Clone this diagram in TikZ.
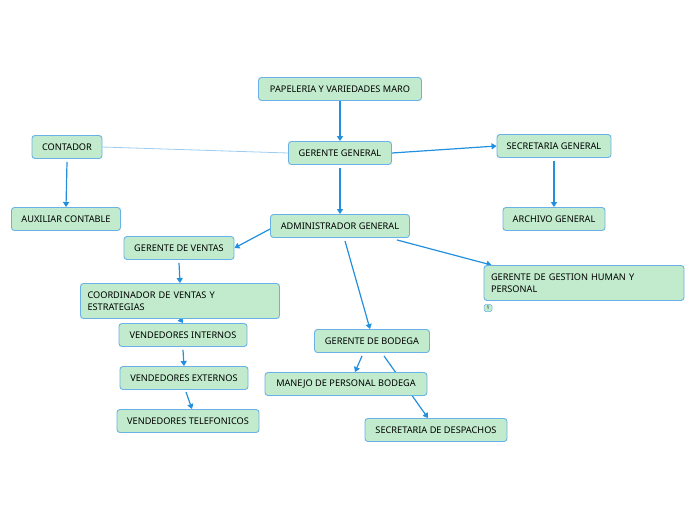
\documentclass[tikz,border=0pt]{standalone}
\usepackage{fontspec}
\setmainfont{Noto Sans}
\usetikzlibrary{arrows.meta,backgrounds}

\definecolor{cajaverde}{HTML}{C1EBCC}
\definecolor{bordeazul}{HTML}{6AB2E6}
\definecolor{flechaazul}{HTML}{2290DE}

\tikzset{
  caja/.style={draw=bordeazul, fill=cajaverde, rounded corners=3pt, line width=0.9pt,
    minimum height=23pt, inner xsep=7pt, font=\fontsize{9.2}{12}\selectfont},
  cajados/.style={caja, align=left, minimum height=35pt, text width=#1},
  flecha/.style={-{Triangle[length=5pt,width=6pt]}, flechaazul, line width=1.2pt},
}

\begin{document}
\begin{tikzpicture}[x=1pt, y=-1pt]
  \useasboundingbox (0,0) rectangle (696,520);

  % nivel superior
  \node[caja, minimum width=163pt] (pap) at (340,89) {PAPELERIA Y VARIEDADES MARO};
  \node[caja, minimum width=103pt] (gg) at (340,153) {GERENTE GENERAL};
  \node[caja, minimum width=70pt] (cont) at (67,147) {CONTADOR};
  \node[caja, minimum width=114pt] (secg) at (554,146) {SECRETARIA GENERAL};
  \node[caja, minimum width=109pt] (aux) at (66,219) {AUXILIAR CONTABLE};
  \node[caja, minimum width=102pt] (arch) at (554,219) {ARCHIVO GENERAL};
  \node[caja, minimum width=139pt] (adm) at (340,226) {ADMINISTRADOR GENERAL};

  % ramas de administracion
  \node[caja, minimum width=110pt] (vent) at (179,248) {GERENTE DE VENTAS};
  \node[cajados=186pt] (hum) at (584,283) {GERENTE DE GESTION HUMAN Y\\PERSONAL};
  \node[draw=bordeazul, fill=cajaverde, rounded corners=1.5pt, line width=0.5pt,
    inner sep=0.5pt, minimum width=8pt, minimum height=7pt,
    font=\fontsize{5}{5}\selectfont] (uno) at (488,308) {1};
  \node[cajados=185pt] (coord) at (180,301) {COORDINADOR DE VENTAS Y\\ESTRATEGIAS};
  \node[caja, minimum width=128pt] (vint) at (183,335) {VENDEDORES INTERNOS};
  \node[caja, minimum width=128pt] (vext) at (184,378) {VENDEDORES EXTERNOS};
  \node[caja, minimum width=142pt] (vtel) at (188,421) {VENDEDORES TELEFONICOS};
  \node[caja, minimum width=115pt] (bod) at (372,341) {GERENTE DE BODEGA};
  \node[caja, minimum width=162pt] (man) at (346,384) {MANEJO DE PERSONAL BODEGA};
  \node[caja, minimum width=142pt] (desp) at (436,430) {SECRETARIA DE DESPACHOS};

  % conexiones
  \begin{scope}[on background layer]
    \draw[flecha] (pap) -- (gg);
    \draw[flecha] (gg.east) -- (secg.west);
    \draw[flechaazul!45, line width=0.8pt] (gg.west) -- (cont.east);
    \draw[flecha] ([yshift=-3pt]gg.south) -- (adm.north);
    \draw[flecha] ([yshift=-3pt]cont.south) -- (aux.north);
    \draw[flecha] ([yshift=-3pt]secg.south) -- (arch.north);
    \draw[flecha] ([yshift=-3pt]adm.west) -- (vent.east);
    \draw[flecha] ([xshift=-13pt,yshift=-2pt]adm.south east) -- ([xshift=8pt]hum.north west);
    \draw[flecha] ([xshift=5pt,yshift=-3pt]adm.south) -- ([xshift=-2pt]bod.north);
    \draw[flecha] ([yshift=-3pt]vent.south) -- (coord.north);
    \draw[flecha] (coord.south) -- (vint.north);
    \draw[flecha] ([yshift=-3pt]vint.south) -- (vext.north);
    \draw[flecha] ([xshift=2pt,yshift=-2pt]vext.south) -- ([xshift=4pt]vtel.north);
    \draw[flecha] ([xshift=-10pt,yshift=-3pt]bod.south) -- ([xshift=9pt]man.north);
    \draw[flecha] ([xshift=12pt,yshift=-3pt]bod.south) -- ([xshift=-8pt]desp.north);
  \end{scope}
\end{tikzpicture}
\end{document}
